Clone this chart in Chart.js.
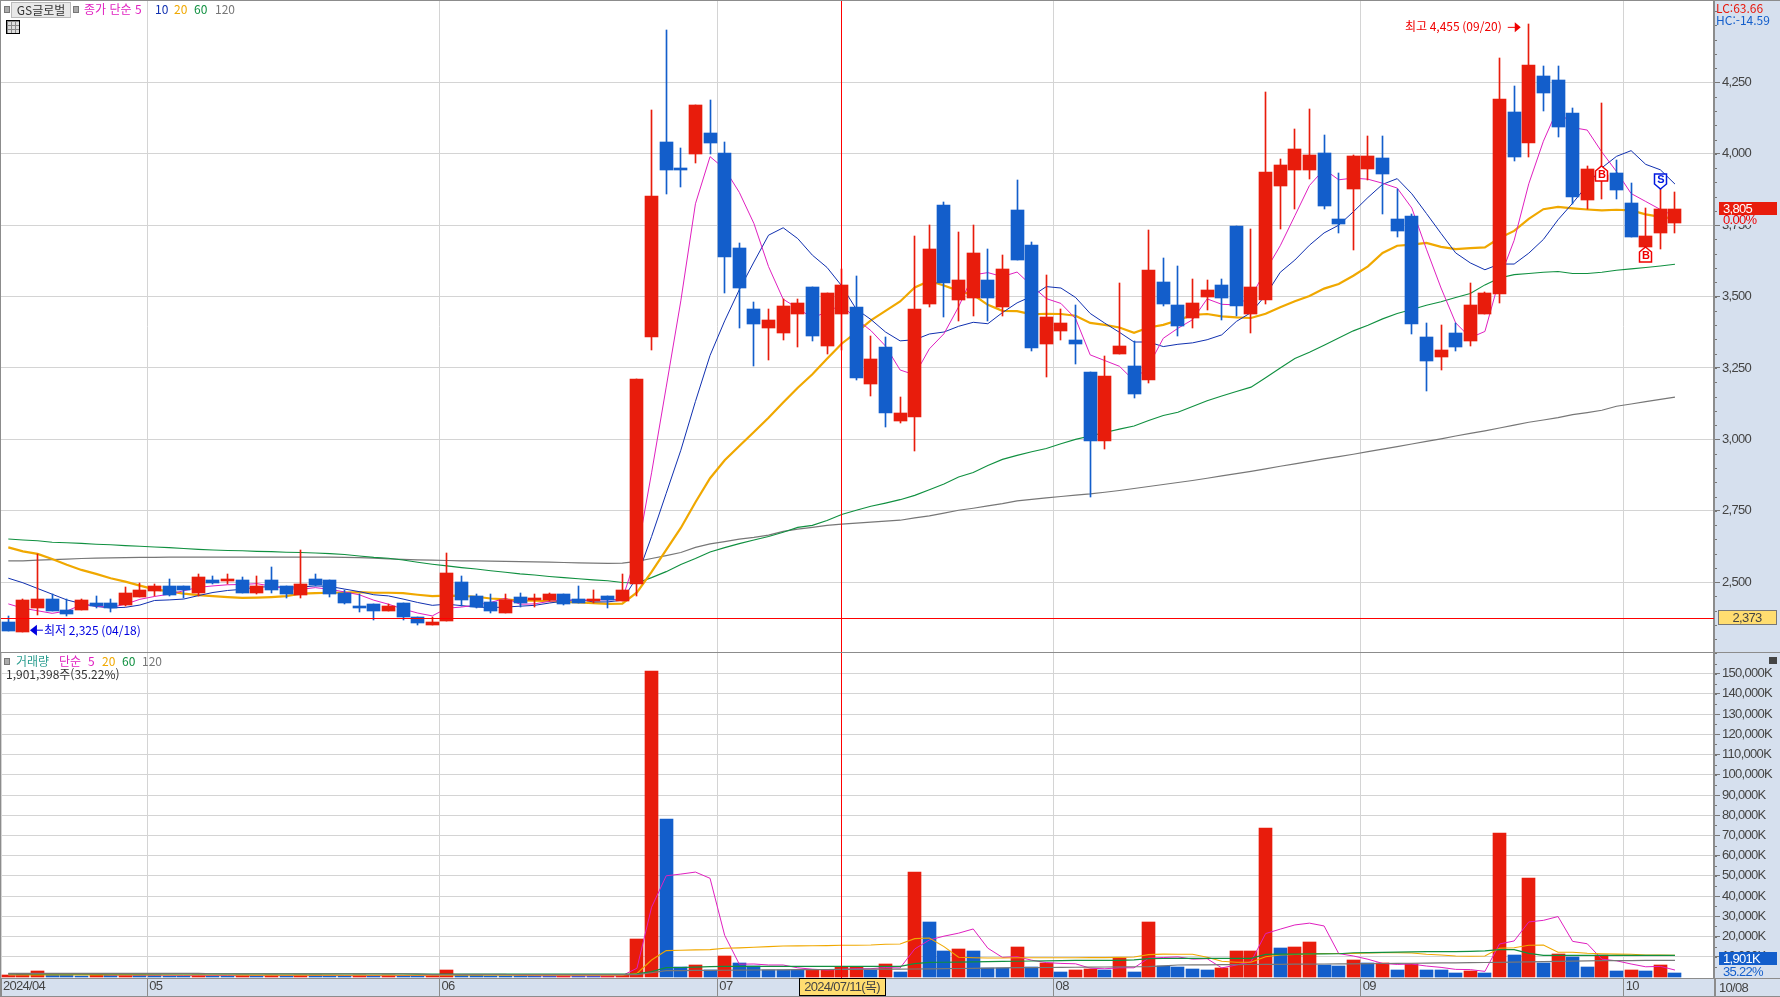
<!DOCTYPE html>
<html lang="ko">
<head>
<meta charset="utf-8">
<title>GS글로벌</title>
<script src="https://cdn.jsdelivr.net/npm/chart.js@4"></script>
<style>
  body { margin: 0; background: #fff; overflow: hidden; }
  #wrap { position: relative; width: 1780px; height: 997px; overflow: hidden; }
  canvas { position: absolute; left: 0; }
  #price { top: 0; }
  #volume { top: 653px; }
  .t { position: absolute; white-space: nowrap; font: 12px/14px "Noto Sans CJK KR", sans-serif; }
  .sq { position: absolute; width: 4px; height: 5px; background: #aaa; border: 1px solid #777; }
</style>
</head>
<body>
<div id="wrap">
  <canvas id="price" width="1780" height="653"></canvas>
  <canvas id="volume" width="1780" height="344"></canvas>

  <div class="sq" style="left:4px;top:6px"></div>
  <div class="t" style="left:11px;top:2px;width:58px;height:14px;background:#e8e8e8;border:1px solid #bbb;text-align:center;color:#333">GS글로벌</div>
  <div class="sq" style="left:73px;top:6px"></div>
  <div class="t" style="left:84px;top:2px;color:#e020c0">종가 단순 5</div>
  <div class="t" style="left:155px;top:2px;color:#1030b0">10</div>
  <div class="t" style="left:174px;top:2px;color:#f0a800">20</div>
  <div class="t" style="left:194px;top:2px;color:#109040">60</div>
  <div class="t" style="left:215px;top:2px;color:#777">120</div>
  <div style="position:absolute;left:6px;top:20px;width:12px;height:12px;border:1px solid #000;padding:0;background-color:#ddd;background-image:linear-gradient(90deg,#888 1px,transparent 1px),linear-gradient(#888 1px,transparent 1px);background-size:4px 4px"></div>

  <div class="sq" style="left:4px;top:658px"></div>
  <div class="t" style="left:16px;top:654px;color:#2a9d8f">거래량</div>
  <div class="t" style="left:59px;top:654px;color:#e020c0">단순</div>
  <div class="t" style="left:88px;top:654px;color:#e020c0">5</div>
  <div class="t" style="left:102px;top:654px;color:#f0a800">20</div>
  <div class="t" style="left:122px;top:654px;color:#109040">60</div>
  <div class="t" style="left:142px;top:654px;color:#777">120</div>
  <div class="t" style="left:6px;top:667px;color:#333">1,901,398주(35.22%)</div>
  <div style="position:absolute;left:1769px;top:657px;width:8px;height:7px;background:#444"></div>

  <div class="t" style="left:1716px;top:1px;color:#e8180c">LC:63.66</div>
  <div class="t" style="left:1716px;top:13px;color:#135ecb">HC:-14.59</div>
</div>

<script>
const opens = [
  2361, 2325, 2410, 2440, 2403, 2403, 2426, 2427, 2420, 2449,
  2470, 2487, 2487, 2463, 2508, 2505, 2508, 2463, 2508, 2487,
  2456, 2512, 2508, 2463, 2415, 2424, 2399, 2427, 2378, 2350,
  2364, 2501, 2452, 2431, 2392, 2449, 2438, 2438, 2459, 2442,
  2435, 2452, 2435, 2492, 3359, 4042, 3951, 4000, 4073, 4003,
  3670, 3456, 3389, 3372, 3438, 3533, 3326, 3438, 3463, 3193,
  3323, 3066, 3080, 3473, 3821, 3488, 3495, 3558, 3463, 3803,
  3680, 3333, 3379, 3347, 3235, 2993, 3298, 3256, 3207, 3551,
  3470, 3424, 3498, 3540, 3747, 3438, 3487, 3887, 3944, 3944,
  4003, 3772, 3877, 3947, 3986, 3772, 3782, 3358, 3288, 3372,
  3344, 3438, 3509, 4147, 4038, 4273, 4259, 4144, 3838, 3910,
  3933, 3828, 3675, 3723, 3758
];
const highs = [
  2382, 2440, 2600, 2458, 2440, 2442, 2452, 2442, 2482, 2496,
  2493, 2512, 2487, 2529, 2522, 2528, 2518, 2522, 2554, 2487,
  2613, 2529, 2508, 2473, 2459, 2424, 2424, 2427, 2378, 2378,
  2603, 2522, 2459, 2459, 2459, 2463, 2459, 2463, 2459, 2487,
  2473, 2452, 2529, 3210, 4154, 4435, 4021, 4172, 4189, 4042,
  3687, 3480, 3456, 3491, 3491, 3533, 3512, 3596, 3572, 3361,
  3358, 3147, 3712, 3751, 3831, 3726, 3751, 3666, 3645, 3908,
  3691, 3575, 3456, 3470, 3235, 3291, 3547, 3344, 3733, 3635,
  3607, 3561, 3558, 3561, 3747, 3737, 4217, 3982, 4087, 4158,
  4066, 3933, 3996, 4063, 4063, 3877, 3790, 3407, 3400, 3407,
  3547, 3516, 4337, 4238, 4455, 4308, 4308, 4161, 3958, 4179,
  3979, 3898, 3810, 3877, 3866
];
const lows = [
  2330, 2325, 2385, 2400, 2380, 2403, 2411, 2394, 2415, 2449,
  2452, 2450, 2444, 2452, 2494, 2494, 2461, 2459, 2461, 2445,
  2445, 2487, 2449, 2424, 2394, 2368, 2399, 2368, 2350, 2350,
  2364, 2417, 2410, 2392, 2392, 2413, 2413, 2435, 2420, 2427,
  2427, 2410, 2435, 2450, 3312, 3859, 3884, 3968, 4000, 3512,
  3389, 3256, 3277, 3347, 3323, 3344, 3298, 3312, 3207, 3151,
  3045, 3056, 2958, 3463, 3428, 3414, 3431, 3414, 3431, 3628,
  3309, 3217, 3347, 3263, 2800, 2968, 3298, 3144, 3196, 3466,
  3361, 3389, 3452, 3417, 3431, 3372, 3473, 3737, 3807, 3912,
  3807, 3723, 3663, 3909, 3789, 3709, 3368, 3168, 3242, 3309,
  3326, 3438, 3477, 3975, 3989, 4151, 4059, 3824, 3807, 3842,
  3842, 3709, 3675, 3666, 3723
];
const closes = [
  2330, 2438, 2440, 2400, 2389, 2438, 2417, 2410, 2463, 2473,
  2487, 2456, 2473, 2519, 2498, 2509, 2463, 2487, 2473, 2459,
  2494, 2491, 2459, 2427, 2411, 2399, 2417, 2378, 2357, 2361,
  2533, 2438, 2413, 2399, 2438, 2427, 2442, 2459, 2424, 2427,
  2442, 2438, 2473, 3210, 3852, 3944, 3945, 4172, 4038, 3638,
  3530, 3403, 3417, 3466, 3477, 3361, 3512, 3540, 3214, 3280,
  3091, 3091, 3456, 3666, 3547, 3558, 3652, 3495, 3596, 3628,
  3319, 3428, 3407, 3333, 2993, 3221, 3326, 3158, 3593, 3473,
  3396, 3477, 3523, 3495, 3466, 3533, 3937, 3961, 4017, 3996,
  3817, 3754, 3993, 3993, 3930, 3730, 3403, 3273, 3312, 3323,
  3470, 3512, 4193, 3989, 4312, 4214, 4094, 3849, 3947, 3925,
  3873, 3709, 3712, 3805, 3805
];
const ma5 = [
  2424, 2409, 2400, 2391, 2399, 2421, 2417, 2411, 2423, 2440,
  2450, 2458, 2470, 2482, 2487, 2491, 2492, 2495, 2486, 2478,
  2475, 2481, 2475, 2466, 2456, 2437, 2423, 2406, 2392, 2382,
  2409, 2413, 2420, 2429, 2444, 2423, 2424, 2433, 2438, 2436,
  2439, 2438, 2441, 2598, 2883, 3183, 3485, 3825, 3990, 3947,
  3865, 3756, 3605, 3491, 3459, 3425, 3447, 3471, 3421, 3381,
  3327, 3243, 3226, 3317, 3370, 3464, 3576, 3584, 3570, 3586,
  3538, 3493, 3476, 3423, 3296, 3276, 3256, 3206, 3258, 3354,
  3389, 3419, 3492, 3473, 3471, 3499, 3591, 3678, 3783, 3889,
  3946, 3909, 3915, 3911, 3897, 3880, 3810, 3666, 3530, 3408,
  3356, 3378, 3562, 3697, 3895, 4044, 4160, 4092, 4083, 4006,
  3938, 3861, 3833, 3805, 3781
];
const ma10 = [
  2514, 2498, 2478, 2458, 2438, 2425, 2415, 2410, 2412, 2420,
  2436, 2438, 2441, 2453, 2464, 2471, 2475, 2483, 2484, 2483,
  2483, 2487, 2485, 2476, 2467, 2456, 2452, 2441, 2429, 2419,
  2423, 2418, 2413, 2411, 2413, 2416, 2419, 2427, 2434, 2440,
  2431, 2431, 2437, 2518, 2660, 2811, 2962, 3133, 3294, 3415,
  3524, 3621, 3715, 3741, 3703, 3645, 3602, 3538, 3456, 3420,
  3376, 3345, 3349, 3369, 3376, 3396, 3410, 3405, 3444, 3478,
  3501, 3535, 3530, 3497, 3441, 3407, 3375, 3341, 3341, 3325,
  3333, 3338, 3349, 3366, 3413, 3444, 3505, 3585, 3628, 3680,
  3723, 3750, 3797, 3847, 3893, 3913, 3860, 3791, 3721, 3653,
  3618, 3594, 3614, 3614, 3652, 3700, 3769, 3827, 3890, 3951,
  3991, 4011, 3963, 3944, 3894
];
const ma20 = [
  2622, 2608, 2599, 2581, 2561, 2543, 2529, 2514, 2502, 2488,
  2475, 2468, 2460, 2455, 2451, 2448, 2445, 2446, 2448, 2451,
  2460, 2462, 2463, 2464, 2465, 2463, 2463, 2462, 2456, 2451,
  2453, 2452, 2449, 2443, 2440, 2436, 2435, 2434, 2431, 2429,
  2427, 2424, 2425, 2464, 2536, 2613, 2690, 2780, 2864, 2927,
  2977, 3026, 3076, 3129, 3181, 3228, 3282, 3335, 3375, 3417,
  3450, 3483, 3532, 3555, 3539, 3520, 3506, 3471, 3450, 3449,
  3438, 3440, 3439, 3433, 3408, 3401, 3392, 3373, 3392, 3401,
  3417, 3436, 3439, 3431, 3427, 3425, 3440, 3463, 3484, 3502,
  3528, 3544, 3573, 3606, 3653, 3678, 3682, 3688, 3674, 3666,
  3670, 3672, 3705, 3730, 3772, 3806, 3814, 3809, 3805, 3802,
  3804, 3802, 3788, 3779, 3773
];
const ma60 = [
  2651, 2648, 2645, 2640, 2638, 2636, 2633, 2631, 2628, 2626,
  2623, 2621, 2618, 2615, 2613, 2611, 2610, 2608, 2607, 2605,
  2604, 2602, 2600, 2597, 2592, 2587, 2584, 2578, 2570, 2563,
  2557, 2551, 2546, 2540, 2535, 2529, 2525, 2520, 2516, 2512,
  2508, 2505, 2499, 2497, 2516, 2537, 2562, 2583, 2606, 2621,
  2635, 2648, 2660, 2675, 2692, 2699, 2716, 2737, 2752, 2766,
  2777, 2789, 2804, 2824, 2844, 2868, 2884, 2909, 2930, 2944,
  2957, 2968, 2985, 3000, 3012, 3024, 3036, 3047, 3066, 3084,
  3095, 3115, 3135, 3152, 3168, 3183, 3216, 3250, 3283, 3305,
  3330, 3355, 3380, 3400, 3422, 3441, 3455, 3470, 3482, 3497,
  3511, 3541, 3565, 3577, 3581, 3585, 3588, 3581, 3581, 3585,
  3592, 3597, 3602, 3607, 3613
];
const ma120 = [
  2575, 2575, 2577, 2579, 2581, 2583, 2584, 2585, 2586, 2587,
  2587, 2588, 2588, 2588, 2588, 2588, 2588, 2588, 2588, 2588,
  2588, 2588, 2588, 2587, 2586, 2584, 2582, 2580, 2578, 2577,
  2576, 2575, 2575, 2574, 2573, 2572, 2571, 2570, 2569, 2568,
  2567, 2566, 2567, 2573, 2583, 2593, 2604, 2622, 2634, 2642,
  2651, 2657, 2665, 2678, 2686, 2692, 2699, 2703, 2707, 2710,
  2714, 2717, 2725, 2732, 2742, 2752, 2759, 2767, 2775, 2785,
  2790, 2795, 2800, 2805, 2809, 2815, 2821, 2828, 2835, 2842,
  2849, 2856, 2864, 2872, 2880, 2888, 2897, 2906, 2914, 2923,
  2932, 2940, 2948, 2957, 2966, 2975, 2984, 2993, 3002, 3012,
  3021, 3030, 3040, 3050, 3060, 3068, 3076, 3087, 3094, 3102,
  3116, 3124, 3132, 3140, 3148
];
const volumes = [
  1000, 1300, 3000, 1100, 1000, 500, 1200, 800, 1000, 800,
  750, 700, 650, 900, 700, 650, 800, 700, 850, 700,
  1000, 800, 700, 600, 800, 700, 850, 700, 600, 800,
  3400, 1000, 800, 700, 650, 600, 550, 500, 650, 600,
  550, 700, 1000, 18810, 151500, 78210, 4950, 5940, 3465, 10395,
  6930, 5445, 3465, 3450, 3400, 3500, 3600, 4950, 5000, 3465,
  6435, 2475, 51975, 27225, 12870, 13860, 12870, 4455, 4400, 14850,
  4950, 6930, 2475, 3465, 3960, 3465, 9405, 2475, 27225, 5610,
  4950, 3960, 3465, 4455, 12870, 12900, 73755, 14355, 14850, 17325,
  5940, 5445, 8415, 6800, 6900, 3465, 6435, 3500, 3465, 1980,
  2970, 1980, 71280, 10890, 49005, 6930, 11385, 9900, 4950, 10890,
  2970, 3465, 2970, 5940, 1901
];
const volMa5 = [
  1000, 1100, 1500, 1500, 1500, 1400, 1380, 900, 900, 900,
  870, 850, 750, 750, 750, 740, 730, 710, 740, 710,
  780, 770, 790, 730, 700, 700, 700, 730, 730, 730,
  1270, 1300, 1320, 1300, 1310, 750, 660, 600, 590, 580,
  570, 600, 700, 4332, 34512, 50044, 50894, 51882, 48813, 20592,
  6336, 6435, 5940, 5937, 4538, 3852, 3483, 3780, 4090, 4103,
  4690, 4465, 13870, 18315, 20196, 21681, 23760, 14256, 9680, 10087,
  8305, 7117, 6721, 6534, 4356, 4059, 4554, 4554, 9306, 9636,
  9933, 8844, 9042, 4488, 5940, 7530, 21489, 23667, 25746, 26637,
  25245, 11583, 10395, 8785, 6700, 6205, 6403, 5420, 4753, 3769,
  3670, 2779, 16335, 17820, 27225, 28017, 29898, 17622, 16434, 8811,
  8019, 6435, 5049, 5247, 3449
];
const volMa20 = [
  1000, 1000, 1050, 1050, 1050, 1050, 1050, 1050, 1050, 1050,
  1000, 1000, 1000, 1000, 1000, 1000, 950, 950, 950, 950,
  950, 950, 950, 900, 900, 900, 900, 900, 900, 850,
  950, 950, 950, 950, 950, 950, 950, 950, 950, 950,
  950, 950, 950, 1800, 8400, 13035, 13200, 13400, 13530, 14190,
  14400, 14685, 15000, 15345, 15400, 15450, 15500, 15675, 15700, 15800,
  16170, 16335, 18975, 19305, 15015, 9735, 9500, 9400, 9400, 9500,
  9500, 9500, 9500, 9500, 9600, 9600, 9700, 9900, 11055, 11300,
  11220, 11220, 9735, 7800, 7260, 7260, 10000, 10890, 11100, 11385,
  11600, 11600, 11600, 11900, 12000, 12000, 11900, 11220, 10900, 10400,
  10230, 10395, 14190, 14500, 15675, 15800, 12210, 12210, 11715, 11500,
  11300, 11220, 10900, 10800, 10700
];
const volMa60 = [
  1500, 1500, 1500, 1500, 1500, 1500, 1500, 1500, 1500, 1500,
  1500, 1500, 1500, 1500, 1500, 1500, 1500, 1500, 1500, 1500,
  1500, 1500, 1500, 1500, 1500, 1500, 1500, 1500, 1400, 1400,
  1400, 1400, 1400, 1400, 1400, 1400, 1400, 1400, 1400, 1400,
  1400, 1400, 1400, 1500, 2640, 4620, 4700, 4900, 5100, 5280,
  5280, 5280, 5280, 5280, 5280, 5280, 5280, 5280, 5280, 5280,
  5280, 5280, 6600, 7260, 7300, 7400, 7500, 7600, 7755, 7800,
  7920, 8000, 8100, 8200, 8250, 8250, 8250, 8500, 9075, 9150,
  9240, 9240, 9240, 9240, 9240, 9240, 11220, 11300, 11350, 11400,
  11400, 11500, 12000, 12100, 12200, 12300, 12400, 12540, 12540, 12540,
  12700, 12900, 13530, 13530, 11715, 10725, 10725, 10725, 10725, 10725,
  10725, 10725, 10725, 10725, 10725
];
const volMa120 = [
  1800, 1800, 1800, 1800, 1800, 1800, 1800, 1800, 1800, 1800,
  1800, 1800, 1800, 1800, 1600, 1600, 1600, 1600, 1600, 1600,
  1600, 1600, 1600, 1600, 1600, 1600, 1600, 1600, 1600, 1200,
  1200, 1200, 1200, 1200, 1200, 1200, 1200, 1200, 1200, 1200,
  1200, 1200, 1200, 1155, 2100, 3135, 3200, 3250, 3300, 3350,
  3400, 3450, 3500, 3550, 3600, 3650, 3700, 3750, 3800, 3850,
  3900, 3930, 3960, 4000, 4100, 4200, 4300, 4400, 4500, 4620,
  4650, 4700, 4760, 4820, 4880, 4940, 5000, 5060, 5115, 5500,
  5940, 5990, 6040, 6090, 6140, 6190, 6240, 6290, 6340, 6390,
  6440, 6490, 6540, 6600, 6670, 6740, 6810, 6880, 6950, 7020,
  7090, 7180, 7260, 7400, 7520, 7640, 7760, 7880, 8000, 8085,
  8100, 8140, 8180, 8220, 8250
];

const priceTicks = [2500, 2750, 3000, 3250, 3500, 3750, 4000, 4250];
const volumeTicks = [
  10000, 20000, 30000, 40000, 50000, 60000, 70000, 80000,
  90000, 100000, 110000, 120000, 130000, 140000, 150000
];
const monthStarts = [0, 10, 30, 49, 72, 93, 111];
const monthLabels = ['2024/04', '05', '06', '07', '08', '09', '10'];
const lastDate = '10/08';
const crossIndex = 57;
const crossDate = '2024/07/11(목)';
const crossPrice = 2373;
const highIndex = 104, highPrice = 4455, highLabel = '최고 4,455 (09/20)';
const lowIndex = 1, lowPrice = 2325, lowLabel = '최저 2,325 (04/18)';
const signalIndex = [109, 112, 113];
const signalPrice = [3958, 3675, 3877];
const signalKind = ['B', 'B', 'S'];

const RED = '#e81c0c', BLUE = '#135ecb', GRID = '#d4d4d4', EDGE = '#8c8c8c', BAND = '#d6e0ee', INK = '#444';
const NUM_FAMILY = '"Liberation Sans","Noto Sans CJK KR",sans-serif';
const AXIS_FONT = { family: NUM_FAMILY, size: 13 };
const FONT = '13px ' + NUM_FAMILY;
const KO_FONT = '12px "Noto Sans CJK KR",sans-serif';
const SQUEEZE = '-0.7px';
const X_MAX = 116.67;

const series = arr => arr.map((v, i) => ({ x: i, y: v }));
const maLine = (arr, color, width, order) => ({
  type: 'line', data: series(arr), borderColor: color, borderWidth: width,
  pointRadius: 0, tension: 0, order: order
});

// round bars to whole pixels so bodies and wicks stay sharp like the original
const snapBars = {
  id: 'snapBars',
  beforeDatasetsDraw(chart) {
    chart.getSortedVisibleDatasetMetas().forEach(meta => {
      if (meta.type !== 'bar') return;
      meta.data.forEach(bar => {
        bar.x = Math.floor(bar.x) + 0.5;
        bar.y = Math.round(bar.y);
        bar.base = Math.round(bar.base);
        bar.height = bar.base - bar.y;
      });
    });
  }
};

const paper = {
  id: 'paper',
  beforeDraw(chart) {
    const { ctx, width, height, chartArea: a } = chart;
    ctx.letterSpacing = SQUEEZE;
    ctx.fillStyle = BAND;
    ctx.fillRect(0, 0, width, height);
    ctx.fillStyle = '#fff';
    ctx.fillRect(a.left, a.top, a.right - a.left, a.bottom - a.top);
  }
};

function label(ctx, str, x, y, font, color, align) {
  ctx.font = font;
  ctx.letterSpacing = font === KO_FONT ? '0px' : SQUEEZE;
  ctx.fillStyle = color;
  ctx.textAlign = align || 'left';
  ctx.textBaseline = 'middle';
  ctx.fillText(str, x, y);
  ctx.letterSpacing = SQUEEZE;
}

function minorTicks(chart, step) {
  const { ctx, chartArea: a, scales: { y } } = chart;
  ctx.fillStyle = '#777';
  for (let v = Math.ceil(y.min / step) * step; v <= y.max; v += step) {
    if (v > 0) ctx.fillRect(a.right + 1, Math.round(y.getPixelForValue(v)), 2, 1);
  }
}

function crossLine(chart) {
  const { ctx, chartArea: a, scales: { x } } = chart;
  ctx.fillStyle = '#ff0000';
  ctx.fillRect(Math.floor(x.getPixelForValue(crossIndex)), a.top, 1, a.bottom - a.top);
}

function signal(ctx, x, tip, kind) {
  const color = kind === 'S' ? '#0018e0' : '#f00000';
  const dir = kind === 'S' ? -1 : 1;
  ctx.beginPath();
  ctx.moveTo(x, tip);
  ctx.lineTo(x + 6, tip + dir * 5);
  ctx.lineTo(x + 6, tip + dir * 15);
  ctx.lineTo(x - 6, tip + dir * 15);
  ctx.lineTo(x - 6, tip + dir * 5);
  ctx.closePath();
  ctx.fillStyle = '#fff';
  ctx.fill();
  ctx.strokeStyle = color;
  ctx.lineWidth = 1.5;
  ctx.stroke();
  label(ctx, kind, x, tip + dir * 9, 'bold 11px "Liberation Sans",sans-serif', color, 'center');
}

const priceOverlay = {
  id: 'priceOverlay',
  afterDatasetsDraw(chart) {
    const { ctx, chartArea: a, scales: { x, y } } = chart;
    minorTicks(chart, 50);
    crossLine(chart);
    ctx.fillStyle = '#ff0000';
    ctx.fillRect(a.left, Math.round(y.getPixelForValue(crossPrice)), a.right - a.left, 1);

    signalIndex.forEach((idx, i) => {
      signal(ctx, Math.floor(x.getPixelForValue(idx)) + 0.5, Math.round(y.getPixelForValue(signalPrice[i])), signalKind[i]);
    });

    // high marker, arrow points at the wick
    const hx = x.getPixelForValue(highIndex), hy = y.getPixelForValue(highPrice) + 3;
    label(ctx, highLabel, hx - 27, hy, KO_FONT, '#f00000', 'right');
    ctx.strokeStyle = '#f00000';
    ctx.lineWidth = 1;
    ctx.beginPath();
    ctx.moveTo(hx - 21, hy + 0.5);
    ctx.lineTo(hx - 10, hy + 0.5);
    ctx.stroke();
    ctx.fillStyle = '#f00000';
    ctx.beginPath();
    ctx.moveTo(hx - 8, hy + 0.5);
    ctx.lineTo(hx - 14, hy - 4.5);
    ctx.lineTo(hx - 14, hy + 5.5);
    ctx.closePath();
    ctx.fill();

    // low marker
    const lx = x.getPixelForValue(lowIndex), ly = y.getPixelForValue(lowPrice) - 2;
    ctx.fillStyle = '#0000e0';
    ctx.beginPath();
    ctx.moveTo(lx + 7, ly);
    ctx.lineTo(lx + 14, ly - 5.5);
    ctx.lineTo(lx + 14, ly + 5.5);
    ctx.closePath();
    ctx.fill();
    ctx.fillRect(lx + 14, ly - 0.5, 6, 1);
    label(ctx, lowLabel, lx + 21, ly, KO_FONT, '#0000e0');
  },
  afterDraw(chart) {
    const { ctx, width, height, chartArea: a, scales: { y } } = chart;
    ctx.fillStyle = EDGE;
    ctx.fillRect(0, 0, width, 1);
    ctx.fillRect(0, 0, 1, height);
    ctx.fillRect(0, height - 1, width, 1);

    // current price tag, the change text hides most of the axis label under it
    const py = Math.round(y.getPixelForValue(closes[closes.length - 1]));
    ctx.fillStyle = RED;
    ctx.fillRect(a.right + 5, py - 7, 58, 13);
    label(ctx, closes[closes.length - 1].toLocaleString('en-US'), a.right + 9, py, FONT, '#fff');
    ctx.fillStyle = BAND;
    ctx.fillRect(a.right + 7, py + 6, 50, 10);
    label(ctx, '0.00%', a.right + 9, py + 11, FONT, '#f00000');

    // cross price tag
    const cy = Math.round(y.getPixelForValue(crossPrice));
    ctx.fillStyle = '#ffdd70';
    ctx.fillRect(a.right + 4, cy - 8, 59, 15);
    ctx.strokeStyle = '#777';
    ctx.lineWidth = 1;
    ctx.strokeRect(a.right + 4.5, cy - 7.5, 58, 14);
    label(ctx, crossPrice.toLocaleString('en-US'), a.right + 33, cy, FONT, INK, 'center');
  }
};

const volumeOverlay = {
  id: 'volumeOverlay',
  afterDatasetsDraw(chart) {
    minorTicks(chart, 5000);
    crossLine(chart);
  },
  afterDraw(chart) {
    const { ctx, width, height, chartArea: a, scales: { x, y } } = chart;
    ctx.fillStyle = EDGE;
    ctx.fillRect(0, 0, 1, height);
    ctx.fillRect(0, a.bottom, width, 1);
    ctx.fillRect(0, height - 1, width, 1);
    ctx.fillRect(a.right, a.bottom, 2, height - a.bottom);
    label(ctx, lastDate, a.right + 5, a.bottom + 10, FONT, INK);

    // last volume tag
    const last = volumes[volumes.length - 1];
    const vy = Math.round(y.getPixelForValue(last)) - 21;
    ctx.fillStyle = BLUE;
    ctx.fillRect(a.right + 5, vy, 58, 13);
    label(ctx, last.toLocaleString('en-US') + 'K', a.right + 9, vy + 7, FONT, '#fff');
    label(ctx, '35.22%', a.right + 9, vy + 20, FONT, '#135ecb');

    // date tag under the cross line
    const cx = Math.round(x.getPixelForValue(crossIndex));
    ctx.fillStyle = '#ffdd70';
    ctx.fillRect(cx - 43, a.bottom, 87, 18);
    ctx.strokeStyle = '#000';
    ctx.lineWidth = 1;
    ctx.strokeRect(cx - 42.5, a.bottom + 0.5, 86, 17);
    label(ctx, crossDate, cx, a.bottom + 9, FONT, INK, 'center');
  }
};

new Chart(document.getElementById('price'), {
  data: {
    datasets: [
      {
        type: 'bar',
        data: series(opens.map((o, i) => [o, closes[i]])),
        backgroundColor: closes.map((c, i) => (c >= opens[i] ? RED : BLUE)),
        barThickness: 13, minBarLength: 2, grouped: false, borderWidth: 0, order: 0
      },
      {
        type: 'bar',
        data: series(lows.map((l, i) => [l, highs[i]])),
        backgroundColor: closes.map((c, i) => (c >= opens[i] ? RED : BLUE)),
        barThickness: 1, grouped: false, borderWidth: 0, order: 1
      },
      maLine(ma120, '#777777', 1.2, 6),
      maLine(ma60, '#109040', 1.1, 5),
      maLine(ma20, '#f0a800', 2.2, 4),
      maLine(ma10, '#1030b0', 1, 3),
      maLine(ma5, '#e020c0', 1, 2)
    ]
  },
  options: {
    responsive: false,
    animation: false,
    events: [],
    layout: { padding: { left: 1, top: 1, right: 0, bottom: 1 } },
    plugins: { legend: { display: false }, tooltip: { enabled: false } },
    scales: {
      x: {
        type: 'linear', min: -0.5, max: X_MAX, offset: false,
        afterBuildTicks(s) { s.ticks = monthStarts.slice(1).map(m => ({ value: m - 0.5 })); },
        afterFit(s) { s.height = 0; s.paddingLeft = 0; s.paddingRight = 0; },
        ticks: { display: false },
        grid: { color: GRID, offset: false, drawTicks: false },
        border: { display: false }
      },
      y: {
        position: 'right', min: 2255.6, max: 4535,
        afterBuildTicks(s) { s.ticks = priceTicks.map(v => ({ value: v })); },
        afterFit(s) { s.width = 66; s.paddingTop = 0; s.paddingBottom = 0; },
        ticks: {
          color: INK, font: AXIS_FONT, padding: 2,
          callback: v => v.toLocaleString('en-US')
        },
        grid: { color: GRID, tickColor: '#777', tickLength: 6 },
        border: { color: EDGE, width: 2 }
      }
    }
  },
  plugins: [paper, snapBars, priceOverlay]
});

new Chart(document.getElementById('volume'), {
  data: {
    datasets: [
      {
        type: 'bar',
        data: series(volumes),
        backgroundColor: volumes.map((v, i) => (i > 0 && v <= volumes[i - 1] ? BLUE : RED)),
        barThickness: 13, grouped: false, borderWidth: 0, order: 10
      },
      maLine(volMa120, '#777777', 1.2, 0),
      maLine(volMa60, '#109040', 1.2, 1),
      maLine(volMa20, '#f0a800', 1.1, 2),
      maLine(volMa5, '#e020c0', 1, 3)
    ]
  },
  options: {
    responsive: false,
    animation: false,
    events: [],
    layout: { padding: { left: 1, top: 0, right: 0, bottom: 0 } },
    plugins: { legend: { display: false }, tooltip: { enabled: false } },
    scales: {
      x: {
        type: 'linear', min: -0.5, max: X_MAX, offset: false,
        afterBuildTicks(s) { s.ticks = monthStarts.map(m => ({ value: m - 0.5 })); },
        afterFit(s) { s.height = 19; s.paddingLeft = 0; s.paddingRight = 0; },
        ticks: {
          color: INK, font: AXIS_FONT, align: 'start', padding: -17, labelOffset: 2,
          autoSkip: false, maxRotation: 0,
          callback: (v, i) => monthLabels[i]
        },
        grid: { color: GRID, tickColor: EDGE, tickLength: 18, offset: false },
        border: { display: false }
      },
      y: {
        position: 'right', min: -495, max: 160237,
        afterBuildTicks(s) { s.ticks = volumeTicks.map(v => ({ value: v })); },
        afterFit(s) { s.width = 66; s.paddingTop = 0; s.paddingBottom = 0; },
        ticks: {
          color: INK, font: AXIS_FONT, padding: 2,
          callback: v => v.toLocaleString('en-US') + 'K'
        },
        grid: { color: GRID, tickColor: '#777', tickLength: 6 },
        border: { color: EDGE, width: 2 }
      }
    }
  },
  plugins: [paper, snapBars, volumeOverlay]
});
</script>
</body>
</html>
